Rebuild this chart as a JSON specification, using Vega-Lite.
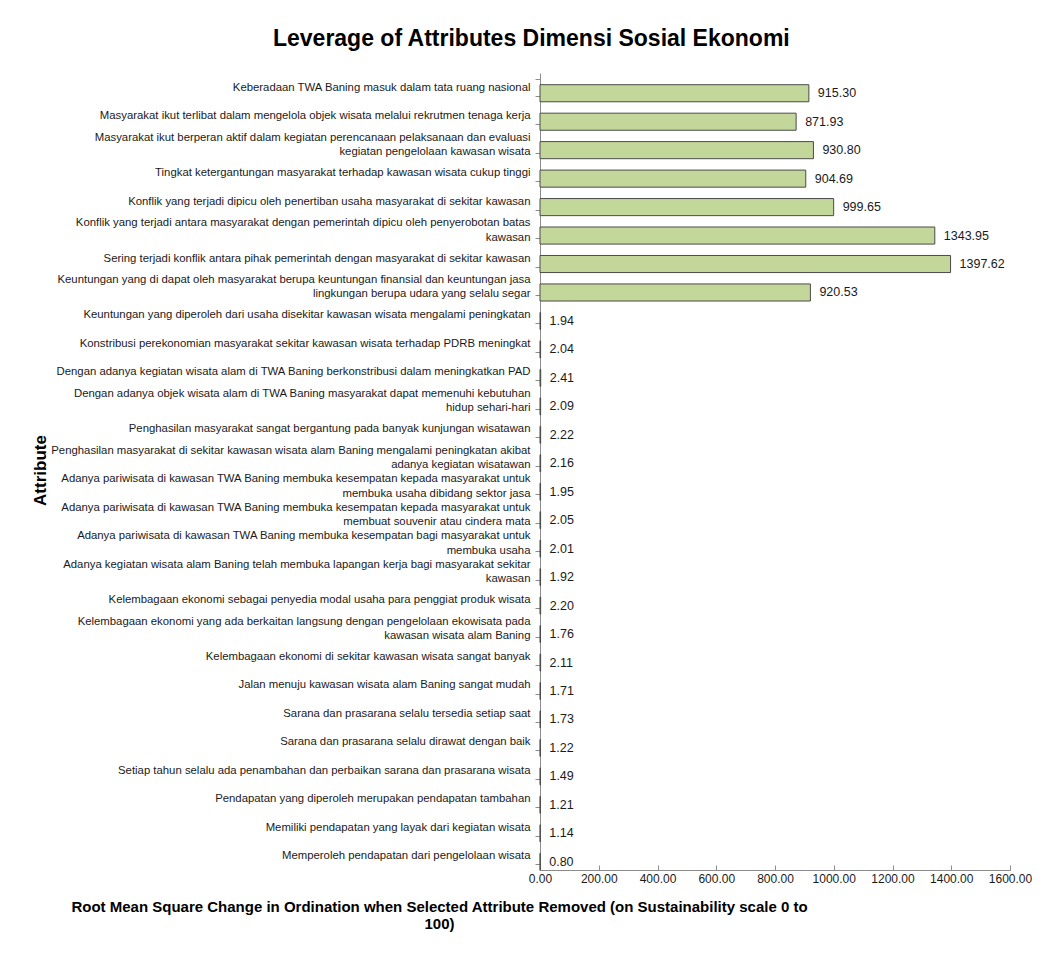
{
  "$schema": "https://vega.github.io/schema/vega-lite/v6.json",
  "width": 470,
  "height": 797,
  "autosize": {"type": "none"},
  "padding": {"left": 540, "top": 73, "right": 35, "bottom": 86},
  "background": "white",
  "title": {
    "text": "Leverage of Attributes Dimensi Sosial Ekonomi",
    "font": "Liberation Sans",
    "fontSize": 23,
    "fontWeight": "bold",
    "color": "#000000",
    "anchor": "middle",
    "frame": "bounds",
    "offset": 16
  },
  "data": {
    "values": [
      {"attribute": "Keberadaan TWA Baning masuk dalam tata ruang nasional", "value": 915.30},
      {"attribute": "Masyarakat ikut terlibat dalam mengelola objek wisata melalui rekrutmen tenaga kerja", "value": 871.93},
      {"attribute": "Masyarakat ikut berperan aktif dalam kegiatan perencanaan pelaksanaan dan evaluasi\nkegiatan pengelolaan kawasan wisata", "value": 930.80},
      {"attribute": "Tingkat ketergantungan masyarakat terhadap kawasan wisata cukup tinggi", "value": 904.69},
      {"attribute": "Konflik yang terjadi dipicu oleh penertiban usaha masyarakat di sekitar kawasan", "value": 999.65},
      {"attribute": "Konflik yang terjadi antara masyarakat dengan pemerintah dipicu oleh penyerobotan batas\nkawasan", "value": 1343.95},
      {"attribute": "Sering terjadi konflik antara pihak pemerintah dengan masyarakat di sekitar kawasan", "value": 1397.62},
      {"attribute": "Keuntungan yang di dapat oleh masyarakat berupa keuntungan finansial dan keuntungan jasa\nlingkungan berupa udara yang selalu segar", "value": 920.53},
      {"attribute": "Keuntungan yang diperoleh dari usaha disekitar kawasan wisata mengalami peningkatan", "value": 1.94},
      {"attribute": "Konstribusi perekonomian masyarakat sekitar kawasan wisata terhadap PDRB meningkat", "value": 2.04},
      {"attribute": "Dengan adanya kegiatan wisata alam di TWA Baning berkonstribusi dalam meningkatkan PAD", "value": 2.41},
      {"attribute": "Dengan adanya objek wisata alam di TWA Baning masyarakat dapat memenuhi kebutuhan\nhidup sehari-hari", "value": 2.09},
      {"attribute": "Penghasilan masyarakat sangat bergantung pada banyak kunjungan wisatawan", "value": 2.22},
      {"attribute": "Penghasilan masyarakat di sekitar kawasan wisata alam Baning mengalami peningkatan akibat\nadanya kegiatan wisatawan", "value": 2.16},
      {"attribute": "Adanya pariwisata di kawasan TWA Baning membuka kesempatan kepada masyarakat untuk\nmembuka usaha dibidang sektor jasa", "value": 1.95},
      {"attribute": "Adanya pariwisata di kawasan TWA Baning membuka kesempatan kepada masyarakat untuk\nmembuat souvenir atau cindera mata", "value": 2.05},
      {"attribute": "Adanya pariwisata di kawasan TWA Baning membuka kesempatan bagi masyarakat untuk\nmembuka usaha", "value": 2.01},
      {"attribute": "Adanya kegiatan wisata alam Baning telah membuka lapangan kerja bagi masyarakat sekitar\nkawasan", "value": 1.92},
      {"attribute": "Kelembagaan ekonomi sebagai penyedia modal usaha para penggiat produk wisata", "value": 2.20},
      {"attribute": "Kelembagaan ekonomi yang ada berkaitan langsung dengan pengelolaan ekowisata pada\nkawasan wisata alam Baning", "value": 1.76},
      {"attribute": "Kelembagaan ekonomi di sekitar kawasan wisata sangat banyak", "value": 2.11},
      {"attribute": "Jalan menuju kawasan wisata alam Baning sangat mudah", "value": 1.71},
      {"attribute": "Sarana dan prasarana selalu tersedia setiap saat", "value": 1.73},
      {"attribute": "Sarana dan prasarana selalu dirawat dengan baik", "value": 1.22},
      {"attribute": "Setiap tahun selalu ada penambahan dan perbaikan sarana dan prasarana wisata", "value": 1.49},
      {"attribute": "Pendapatan yang diperoleh merupakan pendapatan tambahan", "value": 1.21},
      {"attribute": "Memiliki pendapatan yang layak dari kegiatan wisata", "value": 1.14},
      {"attribute": "Memperoleh pendapatan dari pengelolaan wisata", "value": 0.80}
    ]
  },
  "encoding": {
    "y": {
      "field": "attribute",
      "type": "nominal",
      "sort": null,
      "scale": {"paddingInner": 0.4, "paddingOuter": 0.2},
      "axis": {
        "title": "Attribute",
        "titleFont": "Liberation Sans",
        "titleFontSize": 17,
        "titleFontWeight": "bold",
        "titleColor": "#000000",
        "titleAngle": 270,
        "titleX": -500,
        "titleY": 397,
        "titleAlign": "center",
        "titleBaseline": "middle",
        "labelExpr": "split(datum.label, '\\n')",
        "labelFont": "Liberation Sans",
        "labelFontSize": 11.35,
        "labelColor": "#1a1a1a",
        "labelAlign": "right",
        "labelBaseline": "middle",
        "labelLineHeight": 14.5,
        "labelOffset": {"condition": {"test": "indexof(datum.label, '\\n') >= 0", "value": -7}, "value": 0},
        "labelLimit": 0,
        "labelPadding": 5,
        "labelOverlap": false,
        "tickBand": "extent",
        "tickSize": 5,
        "tickColor": "#8c8c8c",
        "domainColor": "#8c8c8c",
        "grid": false
      }
    },
    "x": {
      "field": "value",
      "type": "quantitative",
      "scale": {"domain": [0, 1600], "nice": false},
      "axis": {
        "values": [0, 200, 400, 600, 800, 1000, 1200, 1400, 1600],
        "format": ".2f",
        "grid": false,
        "labelFont": "Liberation Sans",
        "labelFontSize": 12,
        "labelColor": "#1a1a1a",
        "labelFlush": false,
        "labelOverlap": false,
        "labelPadding": 8,
        "tickSize": -5,
        "tickColor": "#8c8c8c",
        "domainColor": "#8c8c8c",
        "title": ["Root Mean Square Change in Ordination when Selected Attribute Removed (on Sustainability scale 0 to", "100)"],
        "titleFont": "Liberation Sans",
        "titleFontSize": 15,
        "titleFontWeight": "bold",
        "titleColor": "#000000",
        "titleX": -101,
        "titleY": 36,
        "titleAlign": "center",
        "titleBaseline": "middle",
        "titleLineHeight": 17
      }
    }
  },
  "layer": [
    {
      "mark": {"type": "bar", "fill": "#c4d79b", "stroke": "#4a4a4a", "strokeWidth": 1, "yOffset": 6}
    },
    {
      "mark": {"type": "text", "align": "left", "baseline": "middle", "dx": 9, "yOffset": 6, "font": "Liberation Sans", "fontSize": 12.5, "color": "#1a1a1a"},
      "encoding": {"text": {"field": "value", "type": "quantitative", "format": ".2f"}}
    }
  ],
  "config": {"view": {"stroke": null}}
}
